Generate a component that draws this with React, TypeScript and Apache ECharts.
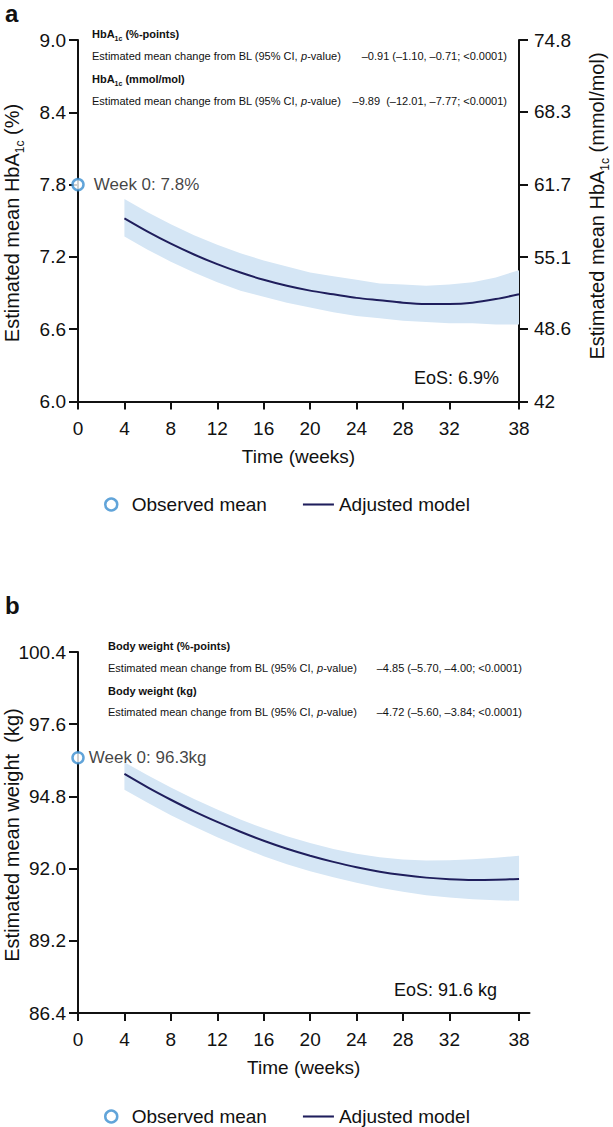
import React, { useEffect, useRef } from "react";
import * as echarts from "echarts";

// ---------- data ----------
const xTicks = [0, 4, 8, 12, 16, 20, 24, 28, 32, 38];
const weeks = [4, 6, 8, 10, 12, 14, 16, 18, 20, 22, 24, 26, 28, 30, 32, 34, 36, 38];

// Panel a: HbA1c (%)
const hbaTicks = [6.0, 6.6, 7.2, 7.8, 8.4, 9.0];
const hbaMmolTicks = [42, 48.6, 55.1, 61.7, 68.3, 74.8];
const hbaBaseline = 7.8;
const hbaModel = [7.52, 7.41, 7.31, 7.22, 7.14, 7.07, 7.01, 6.96, 6.92, 6.89, 6.86, 6.84, 6.82, 6.81, 6.81, 6.82, 6.85, 6.89];
const hbaUpper = [7.68, 7.57, 7.47, 7.38, 7.3, 7.23, 7.17, 7.12, 7.07, 7.04, 7.01, 6.98, 6.97, 6.96, 6.97, 6.99, 7.03, 7.09];
const hbaLower = [7.37, 7.26, 7.16, 7.07, 6.99, 6.92, 6.87, 6.82, 6.78, 6.74, 6.71, 6.69, 6.67, 6.66, 6.65, 6.65, 6.64, 6.64];
const hbaStats = ["\u20130.91 (\u20131.10, \u20130.71; <0.0001)", "\u20139.89  (\u201312.01, \u20137.77; <0.0001)"];
const hbaEos = "EoS: 6.9%";

// Panel b: body weight (kg)
const wtTicks = [86.4, 89.2, 92.0, 94.8, 97.6, 100.4];
const wtBaseline = 96.3;
const wtModel = [95.67, 95.15, 94.67, 94.22, 93.81, 93.43, 93.08, 92.77, 92.5, 92.26, 92.05, 91.88, 91.75, 91.65, 91.59, 91.56, 91.57, 91.6];
const wtUpper = [96.12, 95.62, 95.15, 94.7, 94.29, 93.9, 93.56, 93.25, 92.99, 92.76, 92.58, 92.44, 92.35, 92.31, 92.32, 92.36, 92.42, 92.5];
const wtLower = [95.06, 94.55, 94.07, 93.63, 93.22, 92.84, 92.48, 92.17, 91.9, 91.66, 91.45, 91.26, 91.1, 90.97, 90.88, 90.81, 90.77, 90.75];
const wtStats = ["\u20134.85 (\u20135.70, \u20134.00; <0.0001)", "\u20134.72 (\u20135.60, \u20133.84; <0.0001)"];
const wtEos = "EoS: 91.6 kg";

// ---------- styles ----------
const FONT = '"Liberation Sans", Arial, Helvetica, sans-serif';
const AX = "#111111";
const TXT = "#111111";
const BAND = "#d5e6f5";
const LINE = "#1f1e5c";
const CIRCLE = "#3a8dd0";

const xAxisCfg = (gridIndex: number, max: number) => ({
  type: "value",
  gridIndex,
  min: 0,
  max,
  name: "Time (weeks)",
  nameLocation: "middle",
  nameGap: 45,
  nameTextStyle: { fontSize: 19, color: TXT, fontFamily: FONT },
  axisLine: { show: true, lineStyle: { color: AX, width: 2 } },
  axisTick: { show: true, length: 8, lineStyle: { color: AX, width: 2 }, customValues: xTicks },
  axisLabel: { fontSize: 19, color: TXT, fontFamily: FONT, margin: 17, customValues: xTicks },
  splitLine: { show: false },
});

const yAxisCfg = (gridIndex: number, min: number, max: number, ticks: number[], position: string, fmt: (v: number) => string) => ({
  type: "value",
  gridIndex,
  min,
  max,
  position,
  axisLine: { show: true, lineStyle: { color: AX, width: 2 } },
  axisTick: { show: true, length: 9, lineStyle: { color: AX, width: 2 }, customValues: ticks },
  axisLabel: { fontSize: 19, color: TXT, fontFamily: FONT, margin: position === "right" ? 15 : 12, customValues: ticks, formatter: fmt },
  splitLine: { show: false },
});

const bandSeries = (xi: number, yi: number, upper: number[], lower: number[]) => ({
  type: "custom",
  xAxisIndex: xi,
  yAxisIndex: yi,
  data: weeks.map((w, i) => [w, lower[i], upper[i]]),
  encode: { x: 0, y: [1, 2] },
  silent: true,
  z: 1,
  renderItem: (params: any, api: any) => {
    if (params.dataIndex !== 0) return null;
    const pts: number[][] = [];
    for (let i = 0; i < weeks.length; i++) pts.push(api.coord([weeks[i], upper[i]]));
    for (let i = weeks.length - 1; i >= 0; i--) pts.push(api.coord([weeks[i], lower[i]]));
    return { type: "polygon", shape: { points: pts }, style: { fill: BAND }, silent: true };
  },
});

const panelSeries = (xi: number, yi: number, model: number[], upper: number[], lower: number[], base: number, unit: string, dist: number) => [
  bandSeries(xi, yi, upper, lower),
  {
    type: "line",
    name: "Adjusted model",
    xAxisIndex: xi,
    yAxisIndex: yi,
    data: weeks.map((w, i) => [w, model[i]]),
    symbol: "none",
    smooth: 0.3,
    lineStyle: { color: LINE, width: 2 },
    itemStyle: { color: LINE },
    z: 3,
  },
  {
    type: "scatter",
    name: "Observed mean",
    xAxisIndex: xi,
    yAxisIndex: yi,
    data: [[0, base]],
    symbol: "circle",
    symbolSize: 11,
    clip: false,
    itemStyle: { color: "#ffffff", borderColor: CIRCLE, borderWidth: 2.5 },
    label: {
      show: true,
      position: "right",
      distance: dist,
      fontSize: 17,
      color: TXT,
      fontFamily: FONT,
      formatter: (p: any) => `Week 0: ${p.value[1]}${unit}`,
    },
    z: 5,
  },
];

const legendCfg = (top: number) => ({
  left: 99,
  top,
  orient: "horizontal",
  itemWidth: 31,
  itemHeight: 12,
  itemGap: 36,
  selectedMode: false,
  textStyle: { fontSize: 19, color: TXT, fontFamily: FONT },
  data: [
    { name: "Observed mean", icon: "circle", itemStyle: { color: "#ffffff", borderColor: CIRCLE, borderWidth: 2.5 } },
    { name: "Adjusted model", icon: "path://M0,0 L30,0 L30,2 L0,2 Z", itemStyle: { color: LINE, borderWidth: 0 } },
  ],
});

const small = (x: number, y: number, text: string, rich: any, align = "left") => ({
  type: "text",
  x,
  y,
  silent: true,
  style: { text, rich, align, verticalAlign: "middle", fill: TXT, fontFamily: FONT, fontSize: 11 },
});

const richSmall = {
  n: { fontSize: 11, fontFamily: FONT, fill: TXT, lineHeight: 14, verticalAlign: "top" },
  i: { fontSize: 11, fontFamily: FONT, fill: TXT, fontStyle: "italic", lineHeight: 14, verticalAlign: "top" },
  b: { fontSize: 11, fontFamily: FONT, fill: TXT, fontWeight: "bold", lineHeight: 14, verticalAlign: "top" },
  bs: { fontSize: 7, fontFamily: FONT, fill: TXT, fontWeight: "bold", lineHeight: 7, verticalAlign: "bottom" },
};
const richBig = {
  m: { fontSize: 20, fontFamily: FONT, fill: TXT, lineHeight: 24, verticalAlign: "top" },
  s: { fontSize: 12, fontFamily: FONT, fill: TXT, lineHeight: 12, verticalAlign: "bottom" },
};
const estText = "{n|Estimated mean change from BL (95% CI, }{i|p}{n|-value)}";

const axisTitle = (x: number, y: number, text: string) => ({
  type: "text",
  x,
  y,
  rotation: Math.PI / 2,
  silent: true,
  style: { text, rich: richBig, align: "center", verticalAlign: "middle", fill: TXT, fontFamily: FONT, fontSize: 20 },
});

const plainText = (x: number, y: number, text: string, size: number, align = "left", weight = "normal") => ({
  type: "text",
  x,
  y,
  silent: true,
  style: { text, align, verticalAlign: "middle", fill: TXT, fontFamily: FONT, fontSize: size, fontWeight: weight },
});

const option: any = {
  animation: false,
  backgroundColor: "#ffffff",
  textStyle: { fontFamily: FONT },
  grid: [
    { left: 78, top: 40, width: 441, height: 361.5 },
    { left: 78, top: 652, width: 451.5, height: 361 },
  ],
  xAxis: [xAxisCfg(0, 38), xAxisCfg(1, 38.9)],
  yAxis: [
    yAxisCfg(0, 6.0, 9.0, hbaTicks, "left", (v: number) => v.toFixed(1)),
    yAxisCfg(0, 42, 74.8, hbaMmolTicks, "right", (v: number) => String(v)),
    yAxisCfg(1, 86.4, 100.4, wtTicks, "left", (v: number) => v.toFixed(1)),
  ],
  legend: [legendCfg(490), legendCfg(1102)],
  series: [
    ...panelSeries(0, 0, hbaModel, hbaUpper, hbaLower, hbaBaseline, "%", 9),
    ...panelSeries(1, 2, wtModel, wtUpper, wtLower, wtBaseline, "kg", 4),
  ],
  graphic: [
    plainText(5, 13, "a", 24, "left", "bold"),
    plainText(5, 605, "b", 24, "left", "bold"),
    // panel a annotations
    small(92, 35, "{b|HbA}{bs|1c}{b| (%-points)}", richSmall),
    small(92, 57, estText, richSmall),
    small(507, 57, `{n|${hbaStats[0]}}`, richSmall, "right"),
    small(92, 80, "{b|HbA}{bs|1c}{b| (mmol/mol)}", richSmall),
    small(92, 102, estText, richSmall),
    small(507, 102, `{n|${hbaStats[1]}}`, richSmall, "right"),
    plainText(499, 378, hbaEos, 18, "right"),
    axisTitle(14, 223, "{m|Estimated mean HbA}{s|1c}{m| (%)}"),
    axisTitle(599, 206, "{m|Estimated mean HbA}{s|1c}{m| (mmol/mol)}"),
    // panel b annotations
    small(108, 647, "{b|Body weight (%-points)}", richSmall),
    small(108, 669, estText, richSmall),
    small(522, 669, `{n|${wtStats[0]}}`, richSmall, "right"),
    small(108, 692, "{b|Body weight (kg)}", richSmall),
    small(108, 713, estText, richSmall),
    small(522, 713, `{n|${wtStats[1]}}`, richSmall, "right"),
    plainText(497, 990, wtEos, 18, "right"),
    axisTitle(14, 835, "{m|Estimated mean weight  (kg)}"),
  ],
};

export default function App() {
  const ref = useRef<HTMLDivElement>(null);
  useEffect(() => {
    if (!ref.current) return;
    const chart = echarts.init(ref.current, null, { renderer: "svg" });
    chart.setOption(option);
    return () => chart.dispose();
  }, []);
  return (
    <div
      ref={ref}
      style={{ position: "absolute", left: 0, top: 0, width: 613, height: 1127, background: "#ffffff" }}
    />
  );
}
